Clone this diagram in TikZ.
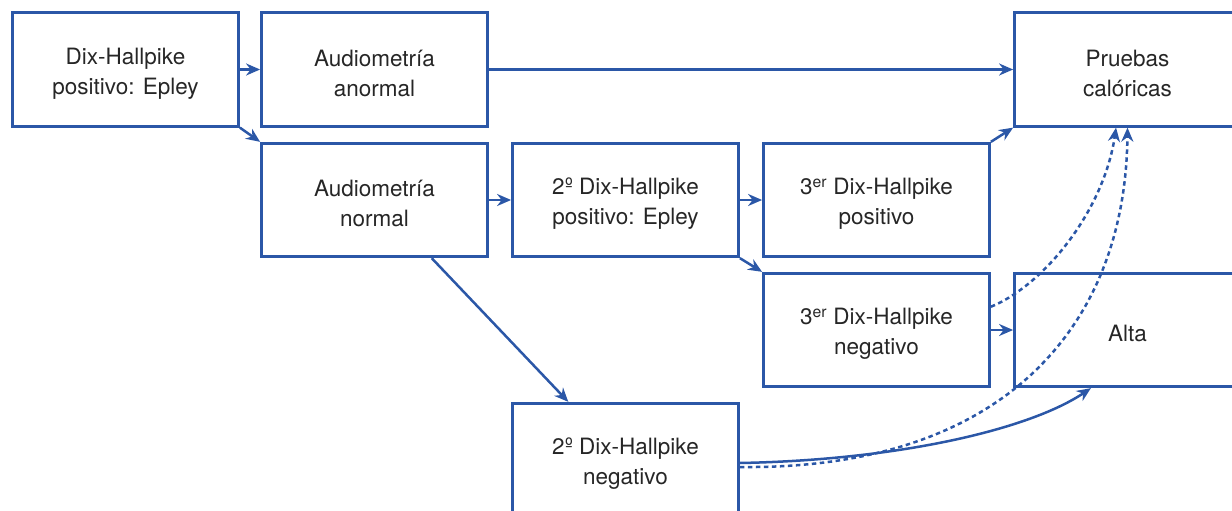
\documentclass[tikz,border=0pt]{standalone}
\usepackage{fontspec}
\setmainfont{TeX Gyre Heros}
\usetikzlibrary{arrows.meta,calc}
\definecolor{dblue}{HTML}{2B57A7}
\newcommand\boxstrut{\rule{0pt}{24pt}}
\begin{document}
\begin{tikzpicture}[x=1pt,y=-1pt,
  box/.style={draw=dblue, line width=2.8pt, minimum width=226pt, minimum height=113.5pt,
    inner sep=0pt, align=center, font=\fontsize{22.5}{30}\selectfont, text=black!85},
  arr/.style={draw=dblue, line width=2.5pt, -{Stealth[length=14pt,width=12pt]}},
  darr/.style={arr, dash pattern=on 4.5pt off 3.5pt}]
\useasboundingbox (0,0) rectangle (1232,511);
\clip (0,0) rectangle (1232,511);
\node[box] (b1) at (125.5,69.5) {\boxstrut Dix-Hallpike\\positivo: Epley};
\node[box] (b2) at (374.5,69.5) {\boxstrut Audiometría\\anormal};
\node[box] (b3) at (374.5,200) {\boxstrut Audiometría\\normal};
\node[box] (b4) at (625.5,200) {\boxstrut 2º Dix-Hallpike\\positivo: Epley};
\node[box] (b5) at (876.5,200) {\boxstrut 3\textsuperscript{er} Dix-Hallpike\\positivo};
\node[box] (b6) at (876.5,330) {\boxstrut 3\textsuperscript{er} Dix-Hallpike\\negativo};
\node[box] (b7) at (1127.5,69.5) {\boxstrut Pruebas\\calóricas};
\node[box] (b8) at (1127.5,330) {\boxstrut Alta};
\node[box] (b9) at (625.5,460) {\boxstrut 2º Dix-Hallpike\\negativo};

\draw[arr] (b1.east) -- (b2.west);
\draw[arr] (b1.south east) -- (b3.north west);
\draw[arr] (b2.east) -- (b7.west);
\draw[arr] (b3.east) -- (b4.west);
\draw[arr] ($(b3.south)!0.5!(b3.south east)$) -- ($(b9.north west)!0.5!(b9.north)$);
\draw[arr] (b4.east) -- (b5.west);
\draw[arr] (b4.south east) -- (b6.north west);
\draw[arr] (b5.north east) -- (b7.south west);
\draw[arr] (b6.east) -- (b8.west);

\coordinate (d1s) at ($(b6.north east)!0.3!(b6.south east)$);
\coordinate (d1e) at ($(b7.south west)!0.45!(b7.south east)$);
\draw[darr] (d1s) .. controls +(54,-22) and +(-12,82) .. (d1e);
\coordinate (d2s) at ($(b9.east)+(0,7)$);
\draw[darr] (d2s) .. controls +(260,3) and +(-2,202) .. (b7.south);
\coordinate (s1s) at ($(b9.east)+(0,3)$);
\coordinate (s1e) at ($(b8.south west)!0.34!(b8.south east)$);
\draw[arr] (s1s) .. controls +(160,-3) and +(-61,41) .. (s1e);
\end{tikzpicture}
\end{document}
